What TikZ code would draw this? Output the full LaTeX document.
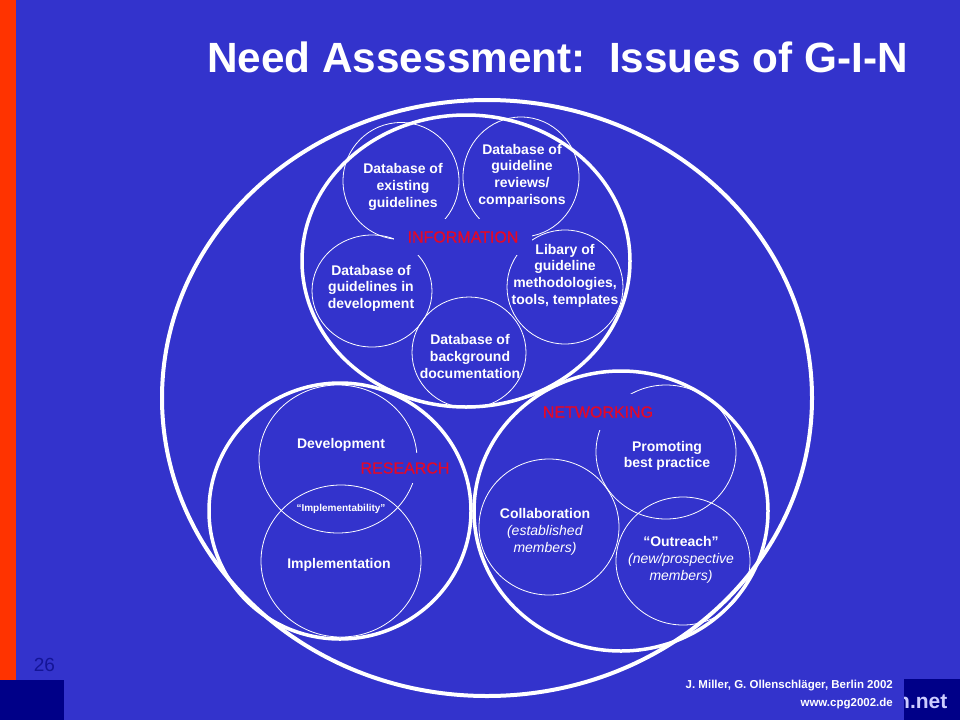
\documentclass[tikz,border=0pt]{standalone}
\usepackage{fontspec}
\setmainfont{Liberation Sans}
\newfontfamily\lblfont[FakeBold=0.7]{Liberation Sans}
\usetikzlibrary{shapes.geometric}
\definecolor{bg}{RGB}{51,51,204}
\definecolor{redbar}{RGB}{255,51,0}
\definecolor{navyblk}{RGB}{0,0,136}
\definecolor{lblred}{RGB}{228,8,40}
\definecolor{numblue}{RGB}{20,20,150}
\definecolor{netlav}{RGB}{204,204,255}
\begin{document}
\begin{tikzpicture}[x=1pt,y=-1pt,
  outerring/.style={draw=white, line width=4pt, ellipse, inner sep=0pt},
  mainring/.style={draw=white, line width=3.5pt, ellipse, inner sep=0pt},
  smallring/.style={draw=white, line width=0.8pt, ellipse, inner sep=0pt},
  smalltxt/.style={text=white, font=\bfseries\fontsize{14}{16.6}\selectfont, align=center, inner sep=0pt},
  mixtxt/.style={text=white, font=\fontsize{14}{17}\selectfont, align=center, inner sep=0pt},
  lblbox/.style={fill=bg, text=lblred, font=\lblfont\fontsize{16}{19}\selectfont, inner xsep=13pt, inner ysep=12pt},
  foot/.style={text=white, font=\bfseries\fontsize{11.5}{13}\selectfont, inner sep=0pt, anchor=east}]
\useasboundingbox (0,0) rectangle (960,720);
\fill[bg] (0,0) rectangle (960,720);
\fill[redbar] (0,0) rectangle (16,680);
\fill[navyblk] (0,680) rectangle (64,720);
\fill[navyblk] (904,679) rectangle (960,720);

% title
\node[text=white, font=\bfseries\fontsize{42.3}{48}\selectfont, anchor=base, inner sep=0pt] (title) at (557.5,72.5) {Need Assessment:\ \ Issues of G-I-N};

% small circles
\node[smallring, minimum width=116pt, minimum height=117pt] (cexist) at (401,181) {};
\node[smallring, minimum width=116pt, minimum height=120pt] (creview) at (521,177) {};
\node[smallring, minimum width=116pt, minimum height=114pt] (clib) at (565,287) {};
\node[smallring, minimum width=120pt, minimum height=112pt] (cdev) at (372,291) {};
\node[smallring, minimum width=114pt, minimum height=111pt] (cback) at (469,352.5) {};
\node[smallring, minimum width=158pt, minimum height=148pt] (cdevel) at (338,459) {};
\node[smallring, minimum width=160pt, minimum height=152pt] (cimpl) at (341,561) {};
\node[smallring, minimum width=140pt, minimum height=134pt] (cpromo) at (666,452) {};
\node[smallring, minimum width=140pt, minimum height=136pt] (ccollab) at (549,527) {};
\node[smallring, minimum width=134pt, minimum height=128pt] (coutr) at (683,561) {};

% red labels (opaque boxes hide the small circles)
\node[lblbox, inner xsep=14pt, inner ysep=12.5pt] (linfo) at (463,237) {INFORMATION};
\node[lblbox, inner xsep=10pt, inner ysep=9.5pt] (lres) at (405,468) {RESEARCH};
\node[lblbox] (lnet) at (598,412) {NETWORKING};

% big rings
\node[outerring, minimum width=650pt, minimum height=596pt] (outer) at (487,398) {};
\node[mainring, minimum width=328pt, minimum height=292pt] (info) at (466,261) {};
\node[mainring, minimum width=262pt, minimum height=256pt] (research) at (340,511) {};
\node[mainring, minimum width=294pt, minimum height=280pt] (network) at (621,511) {};

% texts in information
\node[smalltxt] (texist) at (403,187) {Database of\\existing\\guidelines};
\node[smalltxt] (treview) at (522,175.5) {Database of\\guideline\\reviews/\\comparisons};
\node[smalltxt] (tlib) at (565,275.5) {Libary of\\guideline\\methodologies,\\tools, templates};
\node[smalltxt] (tdev) at (371,288) {Database of\\guidelines in\\development};
\node[smalltxt] (tback) at (470,356.5) {Database of\\background\\documentation};

% research texts
\node[smalltxt] (tdevel) at (341,445) {Development};
\node[text=white, font=\bfseries\fontsize{10}{12}\selectfont, inner sep=0pt] (timpla) at (341,509) {“Implementability”};
\node[smalltxt] (timpl) at (339,565) {Implementation};

% networking texts
\node[smalltxt] (tpromo) at (667,456) {Promoting\\best practice};
\node[mixtxt] (tcollab) at (545,532) {\textbf{Collaboration}\\\textit{(established}\\\textit{members)}};
\node[mixtxt] (toutr) at (681,560) {\textbf{“Outreach”}\\\textit{(new/prospective}\\\textit{members)}};

% footer
\node[text=numblue, font=\fontsize{19}{22}\selectfont, inner sep=0pt] (pnum) at (44.5,665) {26};
\node[foot] (fauth) at (893,686) {J. Miller, G. Ollenschläger, Berlin 2002};
\node[foot] (fweb) at (893,703.5) {www.cpg2002.de};
\begin{scope}
\clip (904,679) rectangle (960,720);
\node[text=netlav, font=\bfseries\fontsize{21}{24}\selectfont, inner sep=0pt, anchor=base west] (fnet) at (897,708.5) {n.net};
\end{scope}
\end{tikzpicture}
\end{document}
